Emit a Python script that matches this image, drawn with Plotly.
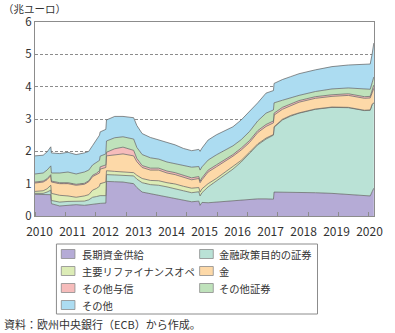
import plotly.graph_objects as go

# Eurosystem/ECB balance-sheet assets, trillion euro (stacked areas)
dates = [
    "2010-01-01", "2010-04-01", "2010-05-14", "2010-06-25", "2010-07-02",
    "2010-10-01", "2011-01-01", "2011-04-01", "2011-07-01", "2011-08-19",
    "2011-10-01", "2011-11-11", "2011-12-16", "2011-12-23", "2012-02-24",
    "2012-03-02", "2012-06-01", "2012-09-01", "2012-12-28", "2013-02-01",
    "2013-04-01", "2013-07-01", "2013-10-01", "2014-01-01", "2014-04-01",
    "2014-07-01", "2014-10-01", "2014-12-19", "2015-01-02", "2015-01-23",
    "2015-04-01", "2015-07-01", "2015-10-01", "2016-01-01", "2016-04-01",
    "2016-07-01", "2016-10-01", "2017-01-01", "2017-03-24", "2017-03-31",
    "2017-07-01", "2017-10-01", "2018-01-01", "2018-07-01", "2019-01-01",
    "2019-07-01", "2019-12-27", "2020-02-28", "2020-03-20", "2020-04-08",
]

long_term_funding = [
    0.67, 0.66, 0.65, 0.66, 0.38, 0.31, 0.33, 0.35, 0.33, 0.35,
    0.37, 0.38, 0.39, 0.39, 0.40, 1.07, 1.06, 1.05, 1.00, 0.88,
    0.74, 0.69, 0.64, 0.60, 0.55, 0.49, 0.44, 0.46, 0.33, 0.42,
    0.41, 0.43, 0.45, 0.47, 0.49, 0.52, 0.53, 0.53, 0.52, 0.74,
    0.74, 0.74, 0.74, 0.72, 0.70, 0.66, 0.62, 0.62, 0.75, 0.86,
]
policy_securities = [
    0.03, 0.04, 0.09, 0.14, 0.10, 0.12, 0.12, 0.10, 0.13, 0.15,
    0.21, 0.22, 0.23, 0.24, 0.23, 0.21, 0.21, 0.21, 0.24, 0.26,
    0.29, 0.28, 0.31, 0.30, 0.30, 0.29, 0.28, 0.29, 0.29, 0.30,
    0.49, 0.65, 0.81, 0.98, 1.18, 1.41, 1.67, 1.85, 1.98, 2.00,
    2.23, 2.35, 2.44, 2.58, 2.66, 2.69, 2.64, 2.65, 2.69, 2.64,
]
main_refi = [
    0.06, 0.08, 0.10, 0.15, 0.22, 0.21, 0.17, 0.13, 0.16, 0.16,
    0.22, 0.25, 0.30, 0.37, 0.42, 0.12, 0.11, 0.10, 0.10, 0.12,
    0.13, 0.13, 0.14, 0.13, 0.14, 0.14, 0.14, 0.13, 0.12, 0.12,
    0.10, 0.08, 0.08, 0.07, 0.05, 0.04, 0.03, 0.03, 0.02, 0.02,
    0.02, 0.02, 0.01, 0.01, 0.01, 0.01, 0.01, 0.01, 0.01, 0.01,
]
gold = [
    0.26, 0.27, 0.28, 0.30, 0.35, 0.36, 0.38, 0.37, 0.36, 0.40,
    0.42, 0.42, 0.41, 0.45, 0.45, 0.46, 0.50, 0.56, 0.52, 0.42,
    0.34, 0.32, 0.33, 0.30, 0.29, 0.28, 0.26, 0.28, 0.29, 0.28,
    0.36, 0.36, 0.34, 0.33, 0.32, 0.30, 0.35, 0.36, 0.36, 0.36,
    0.31, 0.31, 0.33, 0.33, 0.33, 0.37, 0.37, 0.37, 0.40, 0.44,
]
other_credit = [
    0.03, 0.03, 0.03, 0.03, 0.03, 0.03, 0.03, 0.03, 0.03, 0.03,
    0.04, 0.05, 0.07, 0.07, 0.08, 0.11, 0.20, 0.21, 0.17, 0.10,
    0.06, 0.06, 0.06, 0.06, 0.06, 0.07, 0.06, 0.06, 0.05, 0.06,
    0.06, 0.06, 0.06, 0.05, 0.06, 0.06, 0.06, 0.06, 0.06, 0.06,
    0.06, 0.05, 0.05, 0.05, 0.05, 0.05, 0.05, 0.05, 0.05, 0.10,
]
other_securities = [
    0.25, 0.25, 0.27, 0.27, 0.25, 0.30, 0.33, 0.32, 0.35, 0.33,
    0.32, 0.33, 0.32, 0.33, 0.34, 0.35, 0.34, 0.32, 0.35, 0.34,
    0.34, 0.32, 0.28, 0.28, 0.28, 0.28, 0.33, 0.31, 0.34, 0.34,
    0.31, 0.31, 0.28, 0.27, 0.26, 0.28, 0.30, 0.35, 0.34, 0.32,
    0.22, 0.19, 0.16, 0.16, 0.18, 0.18, 0.23, 0.22, 0.22, 0.25,
]
other_assets = [
    0.56, 0.55, 0.56, 0.59, 0.62, 0.60, 0.61, 0.60, 0.59, 0.58,
    0.60, 0.70, 0.78, 0.75, 0.76, 0.65, 0.66, 0.63, 0.66, 0.68,
    0.65, 0.63, 0.59, 0.60, 0.58, 0.54, 0.51, 0.53, 0.58, 0.58,
    0.62, 0.62, 0.62, 0.59, 0.61, 0.62, 0.56, 0.62, 0.60, 0.60,
    0.64, 0.65, 0.67, 0.67, 0.69, 0.71, 0.76, 0.78, 0.88, 1.05,
]

series_names = [
    "長期資金供給", "金融政策目的の証券", "主要リファイナンスオペ", "金",
    "その他与信", "その他証券", "その他",
]
series_values = [
    long_term_funding, policy_securities, main_refi, gold,
    other_credit, other_securities, other_assets,
]
series_colors = [
    "#b5abd6", "#bae2d6", "#dcecb6", "#fdd9a8",
    "#f6bcbb", "#bfe2bb", "#acdcf1",
]

year_labels = [str(y) for y in range(2010, 2021)]
label_dates = [f"{y}-02-20" for y in range(2010, 2021)]

W, H = 395, 333
ML, MR, MT, MB = 35, 12, 22, 117
PW, PH = W - ML - MR, H - MT - MB


def px_x(px):
    return (px - ML) / PW


def px_y(py):
    return (H - MB - py) / PH


fig = go.Figure()
for name, vals, col in zip(series_names, series_values, series_colors):
    fig.add_trace(go.Scatter(
        x=dates, y=vals, name=name, stackgroup="assets", mode="lines",
        line=dict(color="#5e5e5e", width=0.7), fillcolor=col,
        showlegend=False, hoverinfo="skip",
    ))

font_family = "Noto Sans CJK JP"
text_color = "#333333"

shapes = []
annotations = []

# legend box with two columns of swatches
shapes.append(dict(type="rect", xref="paper", yref="paper",
                   x0=px_x(57), x1=px_x(325), y0=px_y(244), y1=px_y(314),
                   line=dict(color="#8c8c8c", width=1), fillcolor="white"))
row_y = [254, 271, 288, 305]
col_sw = [62, 204]
col_tx = [81, 222]
for i, (name, col) in enumerate(zip(series_names, series_colors)):
    r, c = divmod(i, 2)
    cy = row_y[r]
    shapes.append(dict(type="rect", xref="paper", yref="paper",
                       x0=px_x(col_sw[c]), x1=px_x(col_sw[c] + 14),
                       y0=px_y(cy + 4.5), y1=px_y(cy - 4.5),
                       line=dict(color="#8c8c8c", width=0.8), fillcolor=col))
    annotations.append(dict(xref="paper", yref="paper", x=px_x(col_tx[c]),
                            y=px_y(cy), text=name, showarrow=False,
                            xanchor="left", yanchor="middle",
                            font=dict(size=10.3, color=text_color, family=font_family)))

annotations.append(dict(xref="paper", yref="paper", x=px_x(1), y=px_y(0),
                        text="（兆ユーロ）", showarrow=False, xanchor="left",
                        yanchor="top", borderpad=0,
                        font=dict(size=10.5, color=text_color, family=font_family)))
annotations.append(dict(xref="paper", yref="paper", x=px_x(1), y=px_y(324),
                        text="資料：欧州中央銀行（ECB）から作成。", showarrow=False,
                        xanchor="left", yanchor="middle",
                        font=dict(size=11, color=text_color, family=font_family)))

fig.update_layout(
    width=W, height=H,
    margin=dict(l=ML, r=MR, t=MT, b=MB, pad=0),
    paper_bgcolor="white", plot_bgcolor="white",
    font=dict(family=font_family, size=12, color=text_color),
    showlegend=False,
    shapes=shapes, annotations=annotations,
    xaxis=dict(
        type="date", range=["2010-01-01", "2020-04-10"],
        tickmode="array", tickvals=label_dates, ticktext=year_labels,
        ticks="", showgrid=False, ticklabelstandoff=5,
        showline=True, linecolor="#8c8c8c", linewidth=1, mirror=True,
        tickfont=dict(size=12, color=text_color),
        minor=dict(ticks="inside", tick0="2010-01-01", dtick=48 * 7 * 86400000,
                   ticklen=4, tickcolor="#8c8c8c", tickwidth=1, showgrid=False),
    ),
    yaxis=dict(
        range=[0, 6], tickmode="linear", tick0=0, dtick=1,
        showgrid=True, gridcolor="#8c8c8c", gridwidth=1, griddash="3px,2px",
        showline=True, linecolor="#8c8c8c", linewidth=1.2, mirror=True,
        ticks="", zeroline=False,
        tickfont=dict(size=11.5, color=text_color),
    ),
)

fig.write_html("out.html")
